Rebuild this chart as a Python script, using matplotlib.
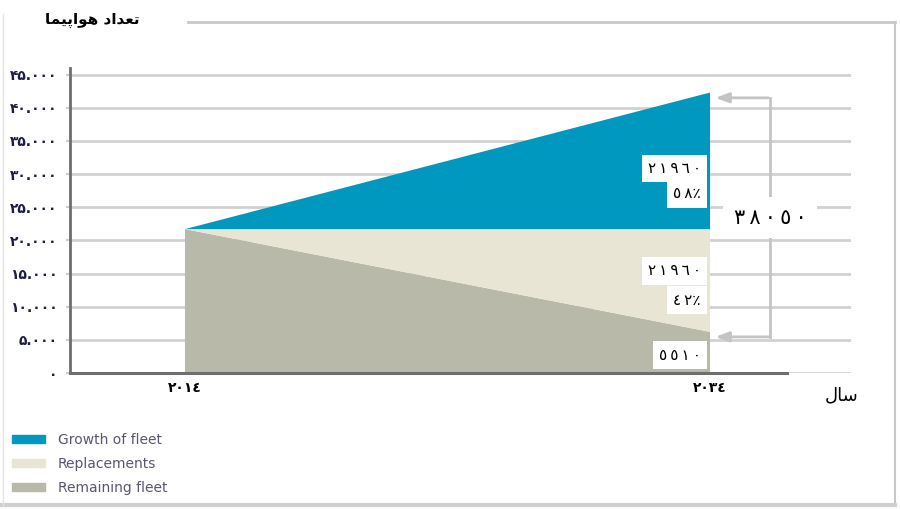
import numpy as np
import matplotlib.pyplot as plt
from matplotlib.patches import Patch
from matplotlib.lines import Line2D

# data
years = [2014, 2034]
remaining = [21700, 6200]
replacements = [0, 15500]
growth = [0, 20600]
series_names = ['Growth of fleet', 'Replacements', 'Remaining fleet']
colors = ['#0098be', '#e9e5d5', '#b9b9aa']
yticks = [0, 5000, 10000, 15000, 20000, 25000, 30000, 35000, 40000, 45000]

growth_count = 21960
replace_count = 21960
remain_count = 5510
total_new = 38050
growth_pct = 58
replace_pct = 42

# Arabic presentation forms in visual order (matplotlib has no shaping)
title_txt = "\uFE8E\uFEE4\uFBFF\uFB58\uFE8D\uFEEE\uFEEB \uFEA9\uFE8D\uFEAA\uFECC\uFE97"
xlabel_txt = "\uFEDD\uFE8E\uFEB3"

persian = str.maketrans('0123456789', '۰۱۲۳۴۵۶۷۸۹')
arabic = str.maketrans('0123456789', '٠١٢٣٤٥٦٧٨٩')

def ytick_fmt(v):
    if v == 0:
        return '۰'
    return f'{v:,}'.replace(',', '.').translate(persian)

def ar(v, sp='\u2009'):
    return sp.join(str(v).translate(arabic))

plt.rcParams['font.family'] = ['DejaVu Sans']

fig = plt.figure(figsize=(9, 5.09), dpi=100)
ax = fig.add_axes([70/900, 1-373/509, (851-70)/900, (373-68)/509])

ax.stackplot(years, remaining, replacements, growth,
             colors=colors[::-1], linewidth=0, zorder=3)

ax.set_xlim(2009.62, 2039.37)
ax.set_ylim(0, 46000)
ax.set_yticks(yticks)
ax.set_yticklabels([ytick_fmt(v) for v in yticks], fontsize=10,
                   fontweight='bold', color='#1c1c48')
ax.set_xticks(years)
ax.set_xticklabels([ar(y, '') for y in years], fontsize=10, fontweight='bold')
ax.tick_params(axis='x', length=0, pad=6)
ax.tick_params(axis='y', length=3, width=1.5, color='#cfcfcf', pad=6)
ax.grid(axis='y', color='#d2d2d2', linewidth=2, zorder=1)
for s in ['top', 'right', 'bottom']:
    ax.spines[s].set_visible(False)
ax.spines['left'].set_color('#6e6e6e')
ax.spines['left'].set_linewidth(2)
ax.plot([0, (787-70)/(851-70)], [0, 0], transform=ax.transAxes,
        color='#6e6e6e', lw=2.2, clip_on=False, zorder=4)

# value boxes
box = dict(boxstyle='square,pad=0.4', fc='white', ec='none')
xr = 2033.65
kw = dict(ha='right', va='center', fontsize=11, bbox=box, zorder=5)
ax.text(xr, 30800, ar(growth_count), **kw)
ax.text(xr, 27000, ar(growth_pct) + '٪', **kw)
ax.text(xr, 15400, ar(replace_count), **kw)
ax.text(xr, 11000, ar(replace_pct) + '٪', **kw)
ax.text(xr, 2700, ar(remain_count), **kw)

# bracket with arrows
bx = 2036.29
top_y, bot_y = 41500, 5450
ax.plot([bx, bx], [top_y, bot_y], color='#c4c4c4', lw=2, zorder=2)
for yy in (top_y, bot_y):
    ax.annotate('', xy=(2034.1, yy), xytext=(bx + 0.04, yy),
                arrowprops=dict(arrowstyle='-|>,head_length=0.8,head_width=0.3',
                                color='#c4c4c4', lw=2), zorder=2)
ax.text(bx, 23400, ar(total_new), ha='center', va='center', fontsize=15,
        bbox=dict(boxstyle='square,pad=0.5', fc='white', ec='none'), zorder=5)

# titles
fig.text(140/900, 1-20/509, title_txt, ha='right', va='center', fontsize=11,
         fontweight='bold')
fig.text(842/900, 1-395/509, xlabel_txt, ha='center', va='center', fontsize=13)

# frame
fc = '#c8c8c8'
fig.add_artist(Line2D([188/900, 895/900], [1-22/509, 1-22/509], color=fc, lw=2))
fig.add_artist(Line2D([895/900, 895/900], [1-22/509, 1-505/509], color=fc, lw=1.5))
fig.add_artist(Line2D([0, 895/900], [1-505/509, 1-505/509], color='#d0d0d0', lw=3))
fig.add_artist(Line2D([3/900, 3/900], [1-14/509, 1-505/509], color='#e4e4e4', lw=1))

# legend
handles = [Patch(color=c) for c in colors]
fig.legend(handles, series_names, loc='upper left',
           bbox_to_anchor=(12/900, 1-433/509), frameon=False, fontsize=10,
           handlelength=2.4, handleheight=0.55, handletextpad=0.9,
           labelspacing=0.72, borderpad=0, borderaxespad=0,
           labelcolor='#5b5670')

fig.savefig('out.png', dpi=100)
